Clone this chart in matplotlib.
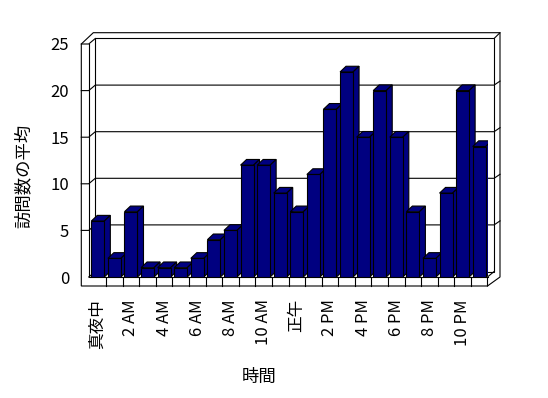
import matplotlib
matplotlib.use("Agg")
import matplotlib.pyplot as plt
from matplotlib.patches import Polygon

plt.rcParams['font.family'] = ['Noto Sans CJK JP', 'DejaVu Sans']

# average visits per hour
hours = list(range(24))
visits = [6, 2, 7, 1, 1, 1, 2, 4, 5, 12, 12, 9, 7, 11, 18, 22, 15, 20, 15, 7, 2, 9, 20, 14]
tick_pos = list(range(0, 24, 2))
tick_labels = ["真夜中", "2 AM", "4 AM", "6 AM", "8 AM", "10 AM",
               "正午", "2 PM", "4 PM", "6 PM", "8 PM", "10 PM"]
y_ticks = [0, 5, 10, 15, 20, 25]

W, H = 548, 398
fig = plt.figure(figsize=(W / 100, H / 100), dpi=100)

# front plane of the 3d box, in pixels
left_px, right_px, top_px, bot_px = 88.7, 487.5, 44, 277
ax = fig.add_axes([left_px / W, 1 - bot_px / H,
                   (right_px - left_px) / W, (bot_px - top_px) / H])
X0, X1 = -0.55, 23.5
ax.set_xlim(X0, X1)
ax.set_ylim(0, 25)
for s in ax.spines.values():
    s.set_visible(False)

sx = (right_px - left_px) / (X1 - X0)   # px per x unit
sy = (bot_px - top_px) / 25.0           # px per y unit

def px(dx, dy):
    """pixel offset -> data offset (dy positive = up)"""
    return dx / sx, dy / sy

bdx, bdy = px(6.6, 5.5)      # back wall depth
tl, _ = px(7.4, 0)           # left wall thickness
_, tf = px(0, 9)             # floor thickness
odx, ody = px(12.5, 11.3)    # outer frame
kw = dict(color='black', lw=0.8, clip_on=False, zorder=1)

# outer frame
outline = [(X0 - tl, -tf), (X0 - tl, 25), (X0 - tl + px(12, 0)[0], 25 + ody),
           (X1 + odx, 25 + ody), (X1 + odx, 0), (X1, -tf)]
ax.add_patch(Polygon(outline, closed=True, facecolor='white', edgecolor='black',
                     lw=0.8, clip_on=False, zorder=0.5))
# back wall
ax.add_patch(Polygon([(X0 + bdx, bdy), (X1 + bdx, bdy), (X1 + bdx, 25 + bdy),
                      (X0 + bdx, 25 + bdy)], closed=True, facecolor='white',
                     edgecolor='black', lw=0.8, clip_on=False, zorder=1))
ax.plot([X0, X0, X1], [25, 0, 0], **kw)
ax.plot([X0 - tl, X0, X0 + bdx], [25, 25, 25 + bdy], **kw)
ax.plot([X0, X0 + bdx], [0, bdy], **kw)
ax.plot([X1 + bdx, X1, X1], [bdy, 0, -tf], **kw)
ax.plot([X1 + bdx, X1 + odx], [25 + bdy, 25 + ody], **kw)

# gridlines across left wall, back wall and right edge
for v in y_ticks[1:-1]:
    ax.plot([X0 - tl, X0, X0 + bdx, X1 + bdx, X1 + odx],
            [v, v, v + bdy, v + bdy, v + bdy + px(0, 4)[1]], **kw)

# floor tick marks between categories
for k in hours[:-1]:
    ax.plot([k + 0.5, k + 0.5], [0, -tf], **kw)

# bars with fake depth
bw = 0.785
ddx, ddy = px(6, 5.7)
bars = ax.bar(hours, visits, width=bw, color='#000080', edgecolor='black', lw=0.8)
for i, (b, v) in enumerate(zip(bars, visits)):
    x0, x1 = i - bw / 2, i + bw / 2
    z = 3 + i * 0.1
    b.set_zorder(z + 0.05)
    top = [(x0, v), (x1, v), (x1 + ddx, v + ddy), (x0 + ddx, v + ddy)]
    side = [(x1, 0), (x1, v), (x1 + ddx, v + ddy), (x1 + ddx, ddy)]
    for pts in (top, side):
        ax.add_patch(Polygon(pts, closed=True, facecolor='#000080',
                             edgecolor='black', lw=0.8, zorder=z))

ax.set_yticks(y_ticks)
ax.set_yticklabels([str(t) for t in y_ticks], fontsize=12)
ax.set_xticks(tick_pos)
ax.set_xticklabels(tick_labels, rotation=90, fontsize=12, va='top')
ax.tick_params(axis='y', length=0, pad=14)
ax.tick_params(axis='x', length=0, pad=16)

fig.text(259 / W, 1 - 377 / H, "時間", fontsize=12.5, ha='center', va='center')
fig.text(24 / W, 1 - 176 / H, "訪問数の平均", fontsize=12.5, rotation=90,
         ha='center', va='center')

fig.savefig("out.png", dpi=100, facecolor='white')
